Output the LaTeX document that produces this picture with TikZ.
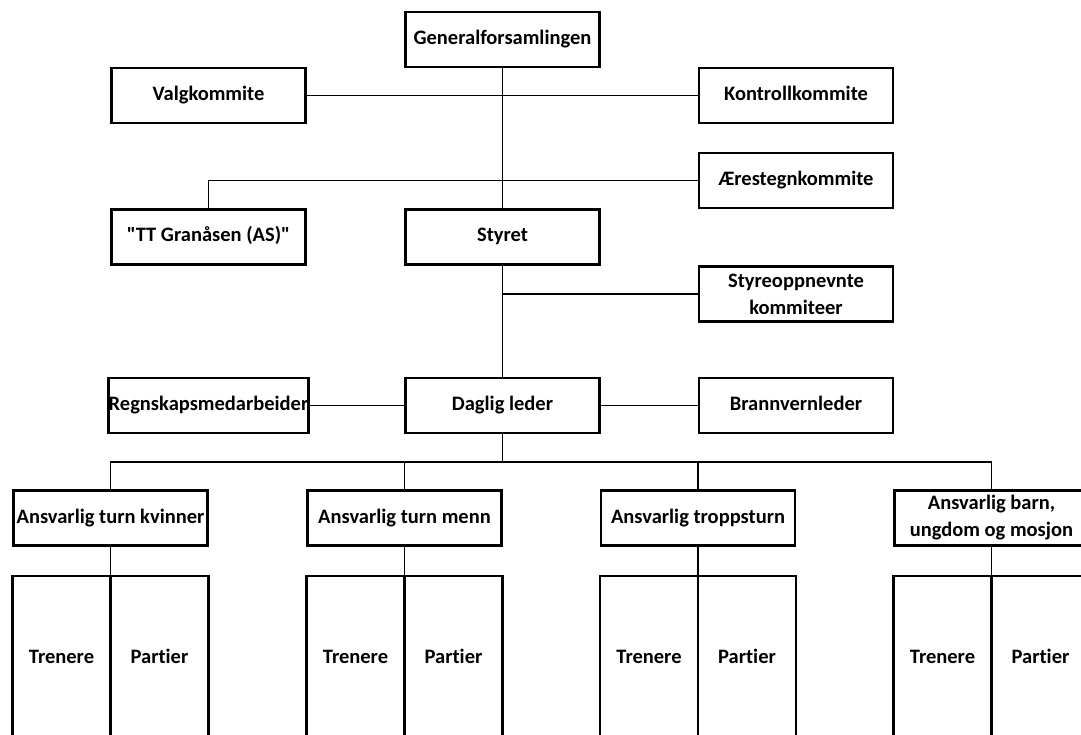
\documentclass[tikz,border=0pt]{standalone}
\usepackage{fontspec}
\setmainfont[Ligatures=NoCommon]{Carlito}
\usepackage{tikz}
\usetikzlibrary{positioning, calc}

\begin{document}
\begin{tikzpicture}[x=1pt, y=-1pt,
  every node/.style={font=\fontsize{20.5}{27}\selectfont\bfseries, align=center, inner sep=0pt, outer sep=0pt},
  box2/.style={draw, line width=2.8pt, minimum width=194pt, minimum height=55pt},
  box/.style={box2, text height=14pt, text depth=4pt},
  cell/.style={draw, line width=2.8pt, minimum width=98pt, minimum height=165pt, text height=14pt, text depth=4pt},
  link/.style={line width=1.2pt}]

\useasboundingbox (0,0) rectangle (1081,735);

%//top of the chart
\node [box] (gen) at (502.5, 39.5) {Generalforsamlingen};
\node [box] (valg) at (208.5, 95.5) {Valgkommite};
\node [box] (kontroll) at (796, 95.5) {Kontrollkommite};
\node [box] (aere) at (796, 180.5) {Ærestegnkommite};
\node [box] (tt) at (208.5, 237) {\textquotedbl TT Granåsen (AS)\textquotedbl};
\node [box] (styret) at (502.5, 237) {Styret};
\node [box2] (styrekom) at (796, 294) {Styreoppnevnte\\kommiteer};
\node [box] (regn) at (208.5, 405.5) {Regnskapsmedarbeider};
\node [box] (daglig) at (502.5, 405.5) {Daglig leder};
\node [box] (brann) at (796, 405.5) {Brannvernleder};

\draw [link] (gen) -- (styret);
\draw [link] (valg) -- (kontroll);
\draw [link] (aere.west) -| (tt.north);
\draw [link] (styret) -- (daglig);
\coordinate (styrejoin) at (styret.south |- styrekom.west);
\draw [link] (styrekom.west) -- (styrejoin);
\draw [link] (regn) -- (daglig);
\draw [link] (daglig) -- (brann);

%//second level
\coordinate (bus) at (502.5, 462);
\draw [link] (daglig.south) -- (bus);

\foreach \x/\name/\val/\sty in {110.5/kvinner/Ansvarlig turn kvinner/box, 404.5/menn/Ansvarlig turn menn/box, 698/tropp/Ansvarlig troppsturn/box, 991.5/barn/{Ansvarlig barn,\\ungdom og mosjon}/box2}
{
\node [\sty] (\name) at (\x, 518) {\val};
\draw [link] (bus) -| (\name.north);

\node [cell] (\name-tren) at (\x-49, 658.5) {Trenere};
\node [cell] (\name-part) at (\x+49, 658.5) {Partier};
\draw [link] (\name.south) -- (\name-tren.north east);
}

\end{tikzpicture}
\end{document}
